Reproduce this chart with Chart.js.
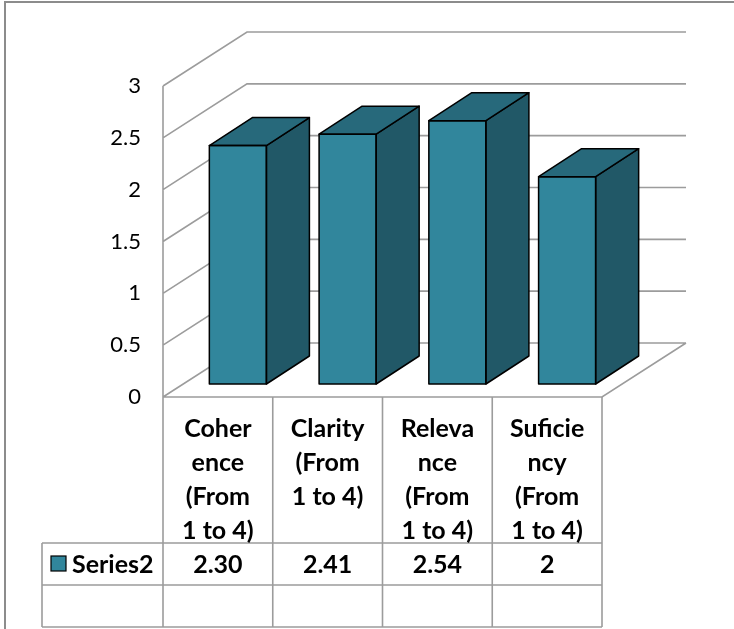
<!DOCTYPE html>
<html>
<head>
<meta charset="utf-8">
<script src="https://cdn.jsdelivr.net/npm/chart.js@4.4.1/dist/chart.umd.min.js"></script>
<style>
  html, body { margin: 0; padding: 0; background: #fff; }
  canvas { display: block; }
</style>
</head>
<body>
<canvas id="chart" width="734" height="629"></canvas>
<script>
// chart data
const categories = [
  ['Coher', 'ence', '(From', '1 to 4)'],
  ['Clarity', '(From', '1 to 4)'],
  ['Releva', 'nce', '(From', '1 to 4)'],
  ['Suficie', 'ncy', '(From', '1 to 4)']
];
const seriesName = 'Series2';
const seriesValues = [2.30, 2.41, 2.54, 2];
const valueLabels = ['2.30', '2.41', '2.54', '2'];
const yMin = 0, yMax = 3, yStep = 0.5;

// look
const FRONT = '#31869c', SIDE = '#215867', TOP = '#27697b';
const GRID = '#9c9c9c';
const FONT = 'Lato, "Open Sans", sans-serif';
const WALL_DX = 84, WALL_DY = -54;   // depth of the back wall
const BAR_DX = 20, BAR_DY = -13;     // where the bar front sits in depth
const BAR_DEPTH_X = 43, BAR_DEPTH_Y = -28;

const depthPlugin = {
  id: 'depth',
  beforeDatasetsDraw(chart) {
    const { ctx, chartArea: a, scales: { y } } = chart;
    ctx.save();
    ctx.strokeStyle = GRID;
    ctx.lineWidth = 1.6;
    ctx.beginPath();
    // side wall front edge
    ctx.moveTo(a.left, a.top);
    ctx.lineTo(a.left, a.bottom);
    // floor front and right edges
    ctx.moveTo(a.left, a.bottom);
    ctx.lineTo(a.right, a.bottom);
    ctx.lineTo(a.right + WALL_DX, a.bottom + WALL_DY);
    // gridlines on side wall and back wall
    y.ticks.forEach(t => {
      const py = y.getPixelForValue(t.value);
      ctx.moveTo(a.left, py);
      ctx.lineTo(a.left + WALL_DX, py + WALL_DY);
      ctx.lineTo(a.right + WALL_DX, py + WALL_DY);
    });
    ctx.stroke();
    ctx.restore();

    // front faces get drawn by chart.js, pushed back into the depth
    ctx.save();
    ctx.translate(BAR_DX, BAR_DY);
  },
  afterDatasetsDraw(chart) {
    const { ctx } = chart;
    ctx.restore();
    ctx.save();
    ctx.strokeStyle = '#000';
    ctx.lineWidth = 1.5;
    ctx.lineJoin = 'round';
    chart.getDatasetMeta(0).data.forEach(el => {
      const p = el.getProps(['x', 'y', 'base', 'width'], true);
      const l = p.x - p.width / 2 + BAR_DX, r = p.x + p.width / 2 + BAR_DX;
      const t = p.y + BAR_DY, b = p.base + BAR_DY;
      // side
      ctx.beginPath();
      ctx.moveTo(r, t);
      ctx.lineTo(r + BAR_DEPTH_X, t + BAR_DEPTH_Y);
      ctx.lineTo(r + BAR_DEPTH_X, b + BAR_DEPTH_Y);
      ctx.lineTo(r, b);
      ctx.closePath();
      ctx.fillStyle = SIDE;
      ctx.fill();
      ctx.stroke();
      // top
      ctx.beginPath();
      ctx.moveTo(l, t);
      ctx.lineTo(l + BAR_DEPTH_X, t + BAR_DEPTH_Y);
      ctx.lineTo(r + BAR_DEPTH_X, t + BAR_DEPTH_Y);
      ctx.lineTo(r, t);
      ctx.closePath();
      ctx.fillStyle = TOP;
      ctx.fill();
      ctx.stroke();
      // front outline
      ctx.strokeRect(l, t, r - l, b - t);
    });
    ctx.restore();
  },
  afterDraw(chart) {
    const { ctx, chartArea: a, scales: { x } } = chart;
    const colW = (a.right - a.left) / categories.length;
    const rowTop = a.bottom + 146, rowH = 42, legendLeft = 42;

    ctx.save();
    // outer frame
    ctx.strokeStyle = '#8c8c8c';
    ctx.lineWidth = 2;
    ctx.beginPath();
    ctx.moveTo(5, chart.height);
    ctx.lineTo(5, 2);
    ctx.lineTo(chart.width, 2);
    ctx.stroke();

    // data table grid
    ctx.strokeStyle = GRID;
    ctx.lineWidth = 1.6;
    ctx.beginPath();
    for (let i = 0; i <= categories.length; i++) {
      const px = a.left + i * colW;
      ctx.moveTo(px, a.bottom);
      ctx.lineTo(px, rowTop + 2 * rowH);
    }
    ctx.moveTo(legendLeft, rowTop);
    ctx.lineTo(legendLeft, rowTop + 2 * rowH);
    for (let k = 0; k <= 2; k++) {
      ctx.moveTo(legendLeft, rowTop + k * rowH);
      ctx.lineTo(a.right, rowTop + k * rowH);
    }
    ctx.stroke();

    // category headers
    ctx.fillStyle = '#000';
    ctx.font = 'bold 25px ' + FONT;
    ctx.textAlign = 'center';
    ctx.textBaseline = 'middle';
    categories.forEach((lines, i) => {
      const cx = x.getPixelForValue(i);
      lines.forEach((s, k) => ctx.fillText(s, cx, a.bottom + 32 + k * 34));
    });

    // series row
    const midY = rowTop + rowH / 2 + 1;
    valueLabels.forEach((s, i) => ctx.fillText(s, x.getPixelForValue(i), midY));
    ctx.textAlign = 'left';
    ctx.fillText(seriesName, 72, midY);
    ctx.fillStyle = FRONT;
    ctx.fillRect(51, rowTop + 13, 15, 15);
    ctx.strokeStyle = '#000';
    ctx.lineWidth = 1.2;
    ctx.strokeRect(51, rowTop + 13, 15, 15);
    ctx.restore();
  }
};

new Chart(document.getElementById('chart'), {
  type: 'bar',
  data: {
    labels: categories,
    datasets: [{
      label: seriesName,
      data: seriesValues,
      backgroundColor: FRONT,
      borderWidth: 0,
      barPercentage: 0.52,
      categoryPercentage: 1,
      clip: false
    }]
  },
  options: {
    responsive: false,
    animation: false,
    events: [],
    layout: { padding: { left: 0, top: 86, right: 132, bottom: 232 } },
    plugins: { legend: { display: false }, tooltip: { enabled: false } },
    scales: {
      x: { display: false, offset: true },
      y: {
        min: yMin,
        max: yMax,
        grid: { display: false, drawTicks: false },
        border: { display: false },
        ticks: {
          stepSize: yStep,
          padding: 22,
          color: '#000',
          font: { family: FONT, size: 22 },
          callback: v => String(v)
        },
        afterFit(scale) { scale.width = 163; }
      }
    }
  },
  plugins: [depthPlugin]
});
</script>
</body>
</html>
